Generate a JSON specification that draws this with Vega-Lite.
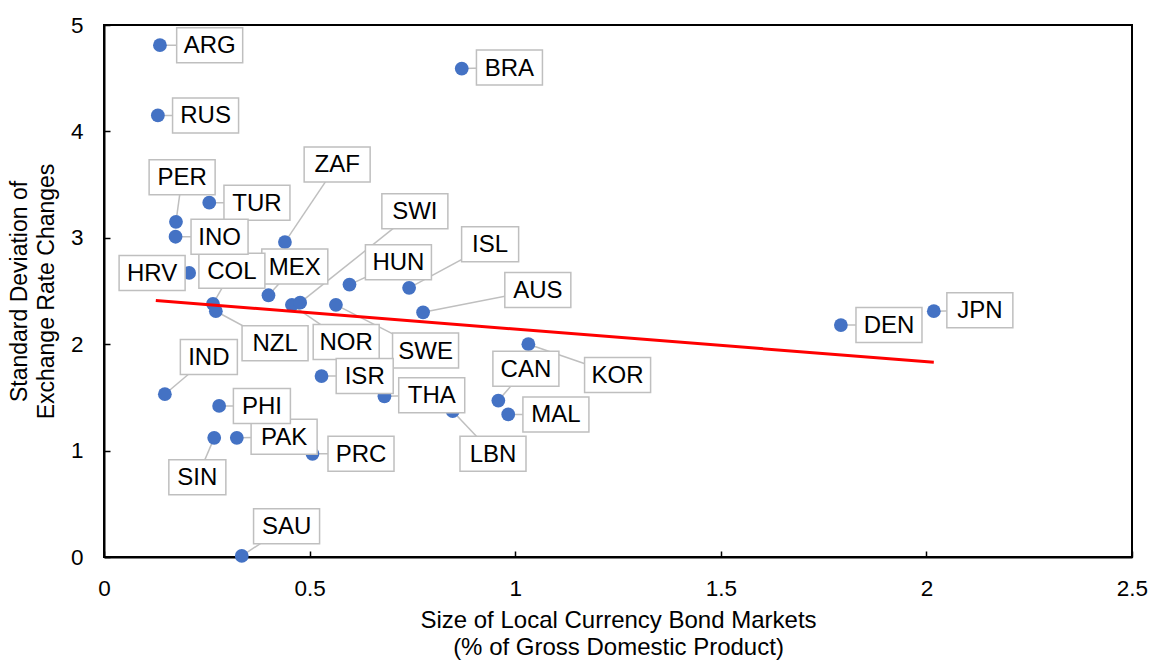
{
  "$schema": "https://vega.github.io/schema/vega-lite/v6.json",
  "width": 1028,
  "height": 532,
  "autosize": {"type": "none"},
  "padding": {"left": 104, "top": 25, "right": 17, "bottom": 104},
  "background": "white",
  "config": {
    "view": {"stroke": "black", "strokeWidth": 2},
    "font": "Liberation Sans",
    "axis": {
      "grid": false,
      "domainColor": "black",
      "domainWidth": 2,
      "tickColor": "black",
      "tickWidth": 1.5,
      "tickSize": -6,
      "labelFont": "Liberation Sans",
      "labelFontSize": 22.5,
      "labelColor": "black",
      "labelFlush": false,
      "labelOverlap": false,
      "titleFont": "Liberation Sans",
      "titleFontWeight": "normal",
      "titleColor": "black"
    }
  },
  "datasets": {
    "pts": [
      {"c": "ARG", "x": 0.136, "y": 4.81, "lx": 0.257, "ly": 4.81},
      {"c": "BRA", "x": 0.870, "y": 4.59, "lx": 0.986, "ly": 4.60},
      {"c": "RUS", "x": 0.131, "y": 4.15, "lx": 0.247, "ly": 4.15},
      {"c": "TUR", "x": 0.256, "y": 3.33, "lx": 0.372, "ly": 3.33},
      {"c": "PER", "x": 0.175, "y": 3.15, "lx": 0.190, "ly": 3.57},
      {"c": "INO", "x": 0.174, "y": 3.01, "lx": 0.281, "ly": 3.01},
      {"c": "ZAF", "x": 0.440, "y": 2.96, "lx": 0.567, "ly": 3.69},
      {"c": "HRV", "x": 0.207, "y": 2.67, "lx": 0.117, "ly": 2.67},
      {"c": "HUN", "x": 0.597, "y": 2.56, "lx": 0.716, "ly": 2.77},
      {"c": "ISL", "x": 0.742, "y": 2.53, "lx": 0.939, "ly": 2.94},
      {"c": "MEX", "x": 0.400, "y": 2.46, "lx": 0.464, "ly": 2.73},
      {"c": "COL", "x": 0.265, "y": 2.38, "lx": 0.311, "ly": 2.69},
      {"c": "NZL", "x": 0.272, "y": 2.31, "lx": 0.416, "ly": 2.01},
      {"c": "NOR", "x": 0.457, "y": 2.37, "lx": 0.589, "ly": 2.02},
      {"c": "SWI", "x": 0.477, "y": 2.39, "lx": 0.756, "ly": 3.25},
      {"c": "SWE", "x": 0.564, "y": 2.37, "lx": 0.782, "ly": 1.94},
      {"c": "AUS", "x": 0.776, "y": 2.30, "lx": 1.055, "ly": 2.51},
      {"c": "KOR", "x": 1.032, "y": 2.00, "lx": 1.249, "ly": 1.71},
      {"c": "DEN", "x": 1.792, "y": 2.18, "lx": 1.909, "ly": 2.18},
      {"c": "JPN", "x": 2.018, "y": 2.31, "lx": 2.130, "ly": 2.32},
      {"c": "IND", "x": 0.148, "y": 1.53, "lx": 0.255, "ly": 1.88},
      {"c": "PHI", "x": 0.280, "y": 1.42, "lx": 0.384, "ly": 1.42},
      {"c": "ISR", "x": 0.529, "y": 1.70, "lx": 0.634, "ly": 1.70},
      {"c": "THA", "x": 0.682, "y": 1.51, "lx": 0.797, "ly": 1.52},
      {"c": "LBN", "x": 0.848, "y": 1.37, "lx": 0.946, "ly": 0.97},
      {"c": "CAN", "x": 0.959, "y": 1.47, "lx": 1.026, "ly": 1.77},
      {"c": "MAL", "x": 0.983, "y": 1.34, "lx": 1.099, "ly": 1.34},
      {"c": "SIN", "x": 0.268, "y": 1.12, "lx": 0.227, "ly": 0.75},
      {"c": "PAK", "x": 0.323, "y": 1.12, "lx": 0.438, "ly": 1.13},
      {"c": "PRC", "x": 0.507, "y": 0.97, "lx": 0.625, "ly": 0.97},
      {"c": "SAU", "x": 0.335, "y": 0.01, "lx": 0.444, "ly": 0.29}
    ],
    "trend": [
      {"x": 0.126, "y": 2.41},
      {"x": 2.018, "y": 1.83}
    ]
  },
  "layer": [
    {
      "data": {"name": "pts"},
      "mark": {"type": "rule", "color": "#BFBFBF", "strokeWidth": 1.5},
      "encoding": {
        "x": {
          "field": "x", "type": "quantitative",
          "scale": {"domain": [0, 2.5], "nice": false},
          "axis": {
            "title": ["Size of Local Currency Bond Markets", "(% of Gross Domestic Product)"],
            "values": [0, 0.5, 1, 1.5, 2, 2.5],
            "format": "~g",
            "labelPadding": 26,
            "titleFontSize": 24,
            "titleLineHeight": 27,
            "titlePadding": 9
          }
        },
        "y": {
          "field": "y", "type": "quantitative",
          "scale": {"domain": [0, 5], "nice": false},
          "axis": {
            "title": ["Standard Deviation of", "Exchange Rate Changes"],
            "values": [0, 1, 2, 3, 4, 5],
            "format": "d",
            "labelPadding": 27,
            "titleFontSize": 23,
            "titleLineHeight": 27,
            "titlePadding": 12
          }
        },
        "x2": {"field": "lx"},
        "y2": {"field": "ly"}
      }
    },
    {
      "data": {"name": "pts"},
      "mark": {"type": "circle", "size": 190, "color": "#4472C4", "opacity": 1},
      "encoding": {
        "x": {"field": "x", "type": "quantitative"},
        "y": {"field": "y", "type": "quantitative"}
      }
    },
    {
      "data": {"name": "trend"},
      "mark": {"type": "line", "color": "#FF0000", "strokeWidth": 3},
      "encoding": {
        "x": {"field": "x", "type": "quantitative"},
        "y": {"field": "y", "type": "quantitative"}
      }
    },
    {
      "data": {"name": "pts"},
      "transform": [{"filter": {"not": {"field": "c", "oneOf": ["ISL", "INO", "SIN", "ISR", "PHI", "IND"]}}}],
      "mark": {"type": "point", "shape": "M-1.886,-1H1.886V1H-1.886Z", "size": 1225, "filled": true, "fill": "white", "stroke": "#BFBFBF", "strokeWidth": 1.5, "opacity": 1, "fillOpacity": 1, "strokeOpacity": 1},
      "encoding": {
        "x": {"field": "lx", "type": "quantitative"},
        "y": {"field": "ly", "type": "quantitative"}
      }
    },
    {
      "data": {"name": "pts"},
      "transform": [{"filter": {"field": "c", "oneOf": ["ISL", "INO", "SIN", "ISR", "PHI", "IND"]}}],
      "mark": {"type": "point", "shape": "M-1.629,-1H1.629V1H-1.629Z", "size": 1225, "filled": true, "fill": "white", "stroke": "#BFBFBF", "strokeWidth": 1.5, "opacity": 1, "fillOpacity": 1, "strokeOpacity": 1},
      "encoding": {
        "x": {"field": "lx", "type": "quantitative"},
        "y": {"field": "ly", "type": "quantitative"}
      }
    },
    {
      "data": {"name": "pts"},
      "mark": {"type": "text", "font": "Liberation Sans", "fontSize": 24, "color": "black", "align": "center", "baseline": "middle", "dy": 1},
      "encoding": {
        "x": {"field": "lx", "type": "quantitative"},
        "y": {"field": "ly", "type": "quantitative"},
        "text": {"field": "c"}
      }
    }
  ]
}
